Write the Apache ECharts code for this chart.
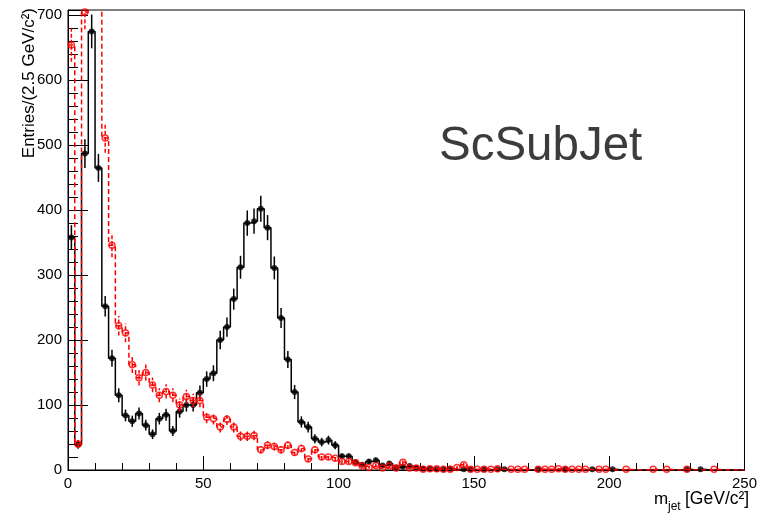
<!DOCTYPE html>
<html><head><meta charset="utf-8">
<script src="https://cdn.jsdelivr.net/npm/echarts@6/dist/echarts.min.js"></script>
<style>html,body{margin:0;padding:0;background:#fff}#c{width:760px;height:514px}</style>
</head><body><div id="c"></div>
<script>
// ---- data ----
const binWidth = 2.5;
const xTickLabels = ['0', '50', '100', '150', '200', '250'];
const yTickLabels = ['0', '100', '200', '300', '400', '500', '600', '700'];
const xTitle = ['m', 'jet', '[GeV/c²]'];
const yTitle = 'Entries/(2.5 GeV/c²)';
const plotLabel = 'ScSubJet';

// black (solid) histogram, entries per 2.5 GeV bin from 0 to 250
const blackCounts = [
  358, 39, 487, 675, 465, 252, 172, 115, 84, 75,
  87, 69, 55, 79, 85, 60, 90, 100, 100, 119,
  140, 149, 200, 220, 263, 312, 380, 383, 402, 373,
  311, 234, 170, 120, 74, 66, 48, 43, 46, 38,
  21, 21, 12, 8, 13, 15, 7, 10, 4, 5,
  6, 3, 2, 2, 1, 1, 2, 0, 1, 1,
  0, 1, 0, 1, 1, 0, 0, 0, 0, 1,
  0, 0, 0, 1, 0, 0, 0, 1, 0, 0,
  1, 0, 0, 0, 0, 0, 0, 0, 0, 0,
  0, 1, 0, 1, 0, 0, 0, 0, 0, 0
];
// red (dashed) histogram
const redCounts = [
  654, 40, 705, 1000, 850, 511, 346, 222, 211, 162,
  142, 150, 131, 115, 121, 115, 100, 113, 107, 107,
  81, 79, 66, 78, 66, 52, 52, 53, 31, 38,
  36, 31, 38, 27, 33, 17, 31, 20, 20, 18,
  13, 13, 11, 6, 4, 7, 3, 6, 3, 12,
  3, 3, 1, 2, 2, 1, 1, 4, 8, 1,
  1, 1, 1, 2, 0, 1, 1, 1, 0, 1,
  1, 1, 2, 1, 1, 1, 1, 0, 1, 1,
  0, 0, 1, 0, 0, 0, 1, 0, 1, 0,
  0, 1, 0, 0, 0, 1, 0, 0, 0, 0
];

// ---- build series data ----
function stepData(counts) {
  const d = counts.map((v, i) => [i * binWidth, v]);
  d.push([counts.length * binWidth, counts[counts.length - 1]]);
  return d;
}
function pointData(counts) {
  const d = [];
  counts.forEach((v, i) => { if (v > 0) d.push([(i + 0.5) * binWidth, v, Math.sqrt(v)]); });
  return d;
}
function errRender(color, dash) {
  return function (params, api) {
    const x = api.value(0), y = api.value(1), e = api.value(2);
    const p1 = api.coord([x, y - e]);
    const p2 = api.coord([x, y + e]);
    return {
      type: 'line',
      shape: { x1: p1[0], y1: p1[1], x2: p2[0], y2: p2[1] },
      style: { stroke: color, lineWidth: 1.5, lineDash: dash }
    };
  };
}

const FONT = 'Liberation Sans';
const chart = echarts.init(document.getElementById('c'), null, { renderer: 'canvas' });
chart.setOption({
  animation: false,
  backgroundColor: '#fff',
  grid: { left: 68, top: 10, width: 680, height: 460, show: true, borderColor: '#000', borderWidth: 1 },
  xAxis: {
    type: 'value', min: 0, max: 250, interval: 50,
    axisLine: { lineStyle: { color: '#000', width: 1 } },
    axisTick: { inside: true, length: 14, lineStyle: { color: '#000', width: 1 } },
    minorTick: { show: true, splitNumber: 5, length: 7, lineStyle: { color: '#000', width: 1 } },
    splitLine: { show: false },
    axisLabel: {
      color: '#000', fontSize: 15, fontFamily: FONT, margin: 6,
      formatter: v => (v % 50 === 0 ? xTickLabels[v / 50] : '')
    }
  },
  yAxis: [{
    type: 'value', min: 0, max: 708, interval: 100, position: 'left',
    axisLine: { show: true, lineStyle: { color: '#000', width: 1 } },
    axisTick: { inside: true, length: 20, lineStyle: { color: '#000', width: 1 } },
    splitLine: { show: false },
    axisLabel: {
      color: '#000', fontSize: 15, fontFamily: FONT, margin: 6,
      formatter: v => (v % 100 === 0 ? yTickLabels[v / 100] : '')
    }
  }, {
    type: 'value', min: 0, max: 708, interval: 20, position: 'left',
    axisLine: { show: false },
    axisTick: { inside: true, length: 10, lineStyle: { color: '#000', width: 1 } },
    splitLine: { show: false },
    axisLabel: { show: false }
  }],
  series: [
    {
      type: 'line', step: 'end', data: stepData(blackCounts), showSymbol: false, symbol: 'none',
      lineStyle: { color: '#000', width: 1.5 }, clip: true, z: 2
    },
    {
      type: 'custom', data: pointData(blackCounts), renderItem: errRender('#000', null),
      encode: { x: 0, y: 1 }, clip: true, z: 3
    },
    {
      type: 'scatter', data: pointData(blackCounts), symbol: 'circle', symbolSize: 6,
      itemStyle: { color: '#000' }, clip: true, z: 4
    },
    {
      type: 'line', step: 'end', data: stepData(redCounts), showSymbol: false, symbol: 'none',
      lineStyle: { color: '#ff0000', width: 1.5, type: [5, 3] }, clip: true, z: 5
    },
    {
      type: 'custom', data: pointData(redCounts), renderItem: errRender('#ff0000', [4, 2]),
      encode: { x: 0, y: 1 }, clip: true, z: 6
    },
    {
      type: 'scatter', data: pointData(redCounts), symbol: 'circle', symbolSize: 6,
      itemStyle: { color: 'rgba(255,255,255,0)', borderColor: '#ff0000', borderWidth: 1.5 }, clip: true, z: 7
    }
  ],
  graphic: [
    {
      type: 'text', x: 439, y: 147, z: 10,
      style: { text: plotLabel, fontSize: 47.5, fontFamily: FONT, fill: '#3c3c3c', align: 'left', verticalAlign: 'middle', textAlign: 'left', textVerticalAlign: 'middle' }
    },
    {
      type: 'text', x: 29, y: 8, rotation: Math.PI / 2, z: 10,
      style: { text: yTitle, fontSize: 17, fontFamily: FONT, fill: '#000', align: 'right', verticalAlign: 'middle', textAlign: 'right', textVerticalAlign: 'middle' }
    },
    {
      type: 'text', x: 654, y: 499, z: 10,
      style: { text: xTitle[0], fontSize: 17, fontFamily: FONT, fill: '#000', align: 'left', verticalAlign: 'middle', textAlign: 'left', textVerticalAlign: 'middle' }
    },
    {
      type: 'text', x: 668, y: 507, z: 10,
      style: { text: xTitle[1], fontSize: 12, fontFamily: FONT, fill: '#000', align: 'left', verticalAlign: 'middle', textAlign: 'left', textVerticalAlign: 'middle' }
    },
    {
      type: 'text', x: 685, y: 499, z: 10,
      style: { text: xTitle[2], fontSize: 17.5, fontFamily: FONT, fill: '#000', align: 'left', verticalAlign: 'middle', textAlign: 'left', textVerticalAlign: 'middle' }
    }
  ]
});
</script>
</body></html>
